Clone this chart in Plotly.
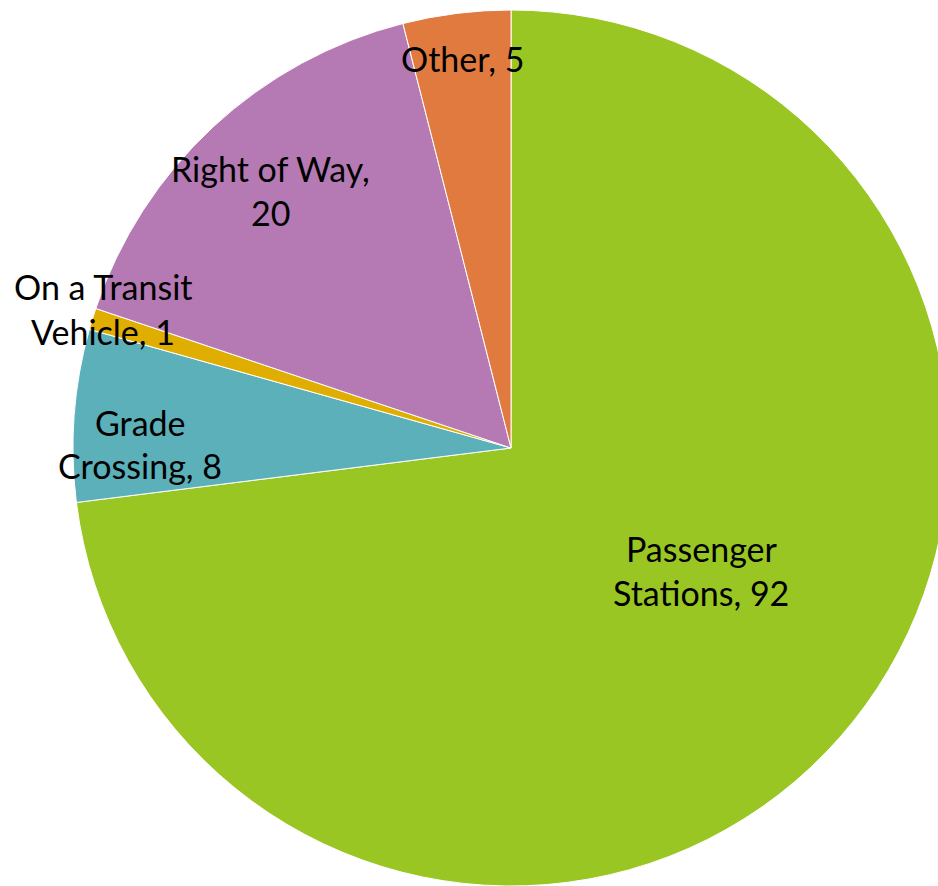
import plotly.graph_objects as go

labels = ["Passenger Stations", "Grade Crossing", "On a Transit Vehicle", "Right of Way", "Other"]
values = [92, 8, 1, 20, 5]
colors = ["#9AC623", "#5BB0BA", "#DFAE00", "#B57AB3", "#E07A3E"]
# number of words before the line break in each "label, value" text
break_after = [1, 1, 3, 3, None]
# label text centres in pixels (x, y from top)
label_pos = [(701, 570), (140, 444), (103, 309), (270, 190), (462, 58)]

W, H = 949, 886
cx, cy, r = 511, 448, 438

fig = go.Figure(go.Pie(
    labels=labels, values=values, sort=False, direction="clockwise", rotation=0,
    marker=dict(colors=colors, line=dict(color="white", width=1)),
    textinfo="none", hoverinfo="label+value", showlegend=False,
    domain=dict(x=[(cx - r) / W, 1], y=[0, 1 - (cy - r) / H]),
))

FS = 34
LINE = 44
for lab, val, br, (px, py) in zip(labels, values, break_after, label_pos):
    words = f"{lab}, {val}".split(" ")
    lines = [" ".join(words)] if br is None else [" ".join(words[:br]), " ".join(words[br:])]
    n = len(lines)
    for i, ln in enumerate(lines):
        off = (i - (n - 1) / 2) * LINE
        fig.add_annotation(x=px / W, y=1 - (py + off) / H, xref="paper", yref="paper",
                           text=ln, showarrow=False, xanchor="center", yanchor="middle",
                           font=dict(family="Lato", size=FS, color="black"))

fig.update_layout(width=W, height=H, margin=dict(l=0, r=0, t=0, b=0),
                  paper_bgcolor="white", plot_bgcolor="white")
fig.write_html("out.html", config={"displayModeBar": False}, post_script=(
    "document.body.style.margin='0';document.body.style.overflow='hidden';"
    "document.documentElement.style.overflow='hidden';"))
